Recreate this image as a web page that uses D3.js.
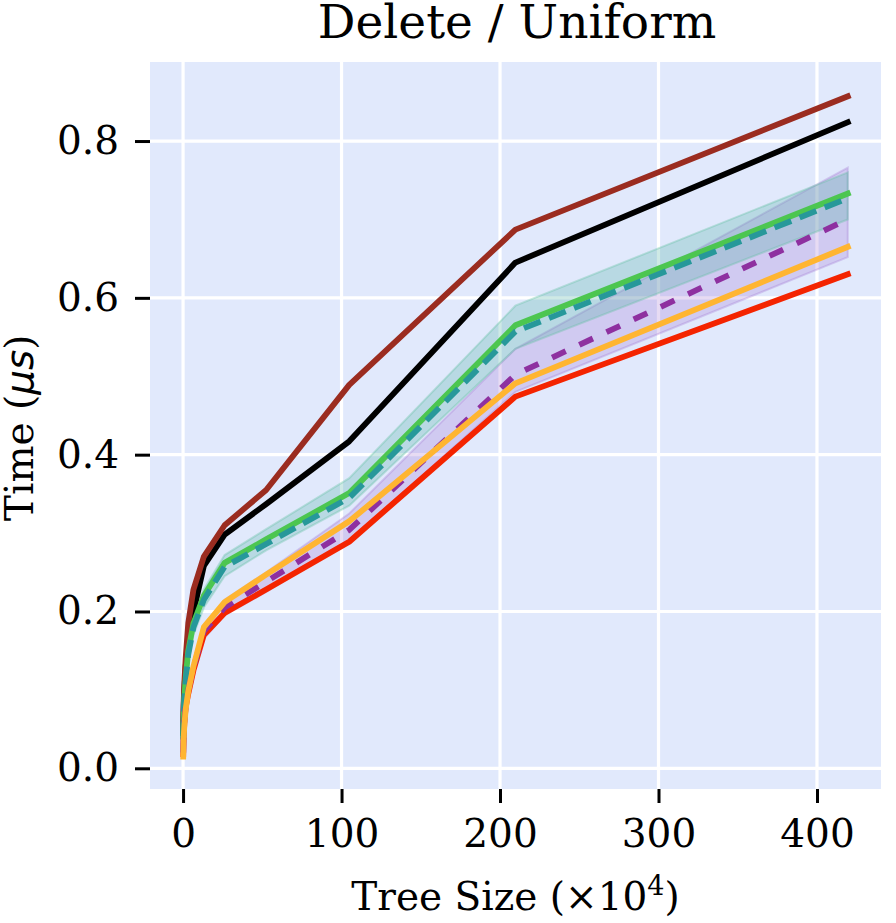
<!DOCTYPE html>
<html>
<head>
<meta charset="utf-8">
<script src="https://cdn.jsdelivr.net/npm/d3@7"></script>
<style>
  body { margin: 0; background: #fff; }
  text { font-family: "DejaVu Serif", serif; fill: #000; }
</style>
</head>
<body>
<svg id="chart" width="896" height="923"></svg>
<script>
// Tree sizes (x 10^4)
const treeSizes = [0.1024, 0.2048, 0.4096, 0.8192, 1.6384, 3.2768, 6.5536, 13.1072, 26.2144, 52.4288, 104.8576, 209.7152, 419.4304];

// Series values (microseconds)
const brownVals  = [0.050, 0.065, 0.085, 0.110, 0.140, 0.185, 0.228, 0.270, 0.310, 0.355, 0.489, 0.687, 0.857];
const blackVals  = [0.045, 0.060, 0.080, 0.100, 0.130, 0.165, 0.200, 0.258, 0.298, 0.337, 0.417, 0.645, 0.824];
const greenVals  = [0.040, 0.055, 0.070, 0.090, 0.115, 0.150, 0.185, 0.220, 0.262, 0.292, 0.351, 0.565, 0.733];
const tealVals   = [0.038, 0.052, 0.068, 0.088, 0.110, 0.145, 0.180, 0.215, 0.257, 0.286, 0.345, 0.557, 0.727];
const purpleVals = [0.020, 0.030, 0.045, 0.060, 0.080, 0.100, 0.128, 0.175, 0.205, 0.238, 0.304, 0.502, 0.700];
const orangeVals = [0.015, 0.025, 0.040, 0.055, 0.075, 0.098, 0.130, 0.180, 0.212, 0.247, 0.315, 0.491, 0.665];
const redVals    = [0.018, 0.028, 0.042, 0.058, 0.078, 0.095, 0.125, 0.170, 0.198, 0.228, 0.289, 0.474, 0.630];

// Spread bands
const greenBandLo  = [0.034, 0.048, 0.062, 0.082, 0.104, 0.138, 0.170, 0.205, 0.245, 0.278, 0.335, 0.535, 0.700];
const greenBandHi  = [0.044, 0.060, 0.076, 0.096, 0.122, 0.158, 0.192, 0.228, 0.272, 0.305, 0.370, 0.590, 0.760];
const purpleBandLo = [0.016, 0.026, 0.040, 0.054, 0.072, 0.092, 0.120, 0.165, 0.195, 0.225, 0.290, 0.480, 0.652];
const purpleBandHi = [0.024, 0.035, 0.050, 0.066, 0.088, 0.108, 0.135, 0.182, 0.215, 0.250, 0.325, 0.535, 0.766];

const xTicks = [0, 100, 200, 300, 400];
const yTicks = [0.0, 0.2, 0.4, 0.6, 0.8];

const titleText = "Delete / Uniform";

(function () {
const svg = d3.select("#chart");
const mL = 150, mR = 881, mT = 62, mB = 789;

const xPad = 0.05 * (d3.max(treeSizes) - d3.min(treeSizes));
const x = d3.scaleLinear()
  .domain([d3.min(treeSizes) - xPad, d3.max(treeSizes) + xPad])
  .range([mL, mR]);
const y = d3.scaleLinear()
  .domain([-0.0264, 0.9008])
  .range([mB, mT]);

// background
svg.append("rect").attr("x", mL).attr("y", mT)
  .attr("width", mR - mL).attr("height", mB - mT)
  .attr("fill", "#e1e9fc");

// grid
const grid = svg.append("g");
grid.selectAll("line.gx").data(xTicks).join("line")
  .attr("x1", d => x(d)).attr("x2", d => x(d))
  .attr("y1", mT).attr("y2", mB)
  .attr("stroke", "#fff").attr("stroke-width", 3.2);
grid.selectAll("line.gy").data(yTicks).join("line")
  .attr("y1", d => y(d)).attr("y2", d => y(d))
  .attr("x1", mL).attr("x2", mR)
  .attr("stroke", "#fff").attr("stroke-width", 3.2);

// axes
const xAxis = svg.append("g").attr("transform", `translate(0,${mB})`)
  .call(d3.axisBottom(x).tickValues(xTicks).tickFormat(d3.format("d")).tickSize(14).tickPadding(16));
const yAxis = svg.append("g").attr("transform", `translate(${mL},0)`)
  .call(d3.axisLeft(y).tickValues(yTicks).tickFormat(d3.format(".1f")).tickSize(15).tickPadding(16));
[xAxis, yAxis].forEach(a => {
  a.select(".domain").remove();
  a.selectAll(".tick line").attr("stroke", "#000").attr("stroke-width", 3);
  a.selectAll(".tick text").style("font-family", "DejaVu Serif").style("font-size", "39px").attr("fill", "#000");
});

// bands
function bandData(lo, hi) { return treeSizes.map((t, i) => ({ t, lo: lo[i], hi: hi[i] })); }
const area = d3.area().x(d => x(d.t)).y0(d => y(d.lo)).y1(d => y(d.hi));
const plot = svg.append("g");
plot.append("path").datum(bandData(purpleBandLo, purpleBandHi))
  .attr("d", area).attr("fill", "#a070d0").attr("fill-opacity", 0.25)
  .attr("stroke", "#a070d0").attr("stroke-opacity", 0.3).attr("stroke-width", 2);
plot.append("path").datum(bandData(greenBandLo, greenBandHi))
  .attr("d", area).attr("fill", "#50b0a0").attr("fill-opacity", 0.28)
  .attr("stroke", "#60c0a0").attr("stroke-opacity", 0.35).attr("stroke-width", 2);

// lines
const series = [
  { vals: blackVals,  color: "#000000", dash: null },
  { vals: brownVals,  color: "#9b2c20", dash: null },
  { vals: redVals,    color: "#f42400", dash: null },
  { vals: greenVals,  color: "#4cc650", dash: null },
  { vals: tealVals,   color: "#27989a", dash: "18,9" },
  { vals: purpleVals, color: "#8e30a0", dash: "15,15" },
  { vals: orangeVals, color: "#ffb531", dash: null }
];
const line = d3.line().x(d => x(d[0])).y(d => y(d[1]));
series.forEach(s => {
  plot.append("path")
    .datum(treeSizes.map((t, i) => [t, s.vals[i]]))
    .attr("d", line)
    .attr("fill", "none")
    .attr("stroke", s.color)
    .attr("stroke-width", 5.8)
    .attr("stroke-linejoin", "round")
    .attr("stroke-linecap", s.dash ? "butt" : "square")
    .attr("stroke-dasharray", s.dash);
});

// title
svg.append("text").attr("x", 517).attr("y", 38)
  .attr("text-anchor", "middle").style("font-size", "47px").text(titleText);

// x label
const xl = svg.append("text").attr("x", (mL + mR) / 2).attr("y", 910)
  .attr("text-anchor", "middle").style("font-size", "39px");
xl.append("tspan").text("Tree Size (×10");
xl.append("tspan").attr("dy", -15).style("font-size", "27px").text("4");
xl.append("tspan").attr("dy", 15).text(")");

// y label
const yl = svg.append("text")
  .attr("transform", `translate(33,521) rotate(-90)`)
  .attr("text-anchor", "start").style("font-size", "39px");
yl.append("tspan").text("Time (");
yl.append("tspan").style("font-family", "DejaVu Sans").style("font-style", "italic").text("μs");
yl.append("tspan").text(")");
})();
</script>
</body>
</html>
